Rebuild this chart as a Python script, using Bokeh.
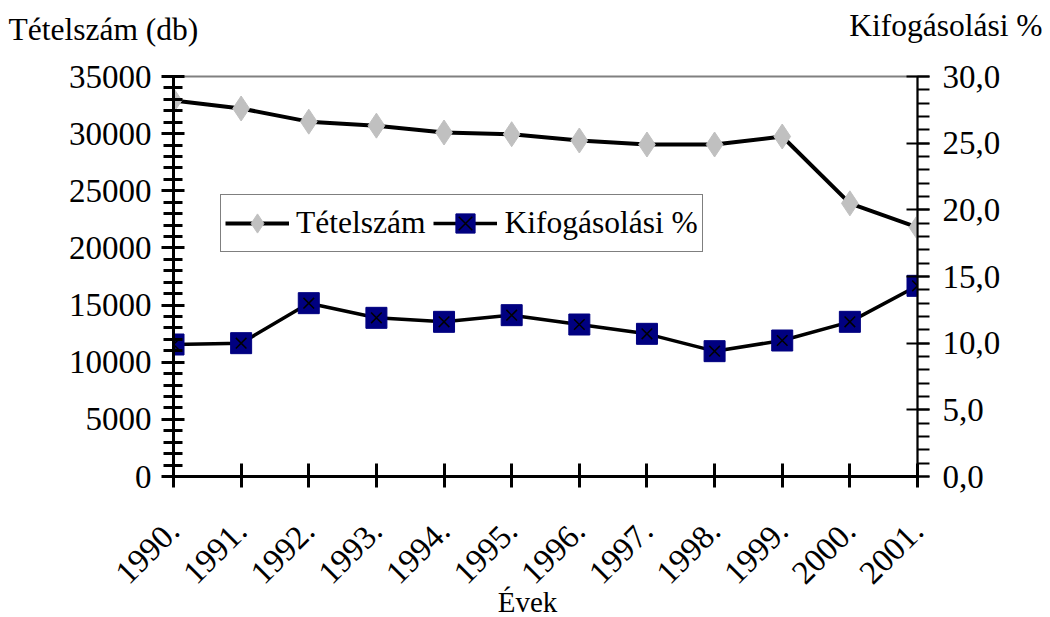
import math
from bokeh.plotting import figure
from bokeh.models import (Range1d, LinearAxis, SingleIntervalTicker, FixedTicker,
                          Legend, LegendItem, Label)
from bokeh.embed import file_html
from bokeh.resources import INLINE

# ---- data ----
years = [1990, 1991, 1992, 1993, 1994, 1995, 1996, 1997, 1998, 1999, 2000, 2001]
year_labels = ["1990.", "1991.", "1992.", "1993.", "1994.", "1995.",
               "1996.", "1997.", "1998.", "1999.", "2000.", "2001."]
tetelszam = [32900, 32200, 31050, 30700, 30100, 29950, 29400, 29050, 29050, 29750, 23900, 21800]
kifogasolasi = [9.9, 10.0, 13.0, 11.9, 11.6, 12.1, 11.4, 10.7, 9.4, 10.2, 11.6, 14.3]
right_ticks = [0, 5, 10, 15, 20, 25, 30]
right_tick_labels = ["0,0", "5,0", "10,0", "15,0", "20,0", "25,0", "30,0"]
left_title = "Tételszám (db)"
right_title = "Kifogásolási %"
x_title = "Évek"
series_names = ["Tételszám", "Kifogásolási %"]

FONT = "Liberation Serif"
FS = "31.5px"
TICK_FS = "33px"

p = figure(width=1050, height=617, output_backend="svg", toolbar_location=None,
           title=None,
           x_range=Range1d(1990, 2001), y_range=Range1d(0, 35000),
           min_border_left=173, min_border_right=133, min_border_top=76,
           min_border_bottom=141, x_axis_type=None, y_axis_type=None)
p.extra_y_ranges = {"pct": Range1d(0, 30)}
p.grid.visible = False
p.outline_line_color = "#808080"
p.outline_line_width = 2
p.background_fill_color = "white"
p.border_fill_color = "white"

# left axis
ya = LinearAxis(ticker=SingleIntervalTicker(interval=5000, num_minor_ticks=5))
ya.axis_line_width = 3
ya.major_tick_line_width = 3
ya.minor_tick_line_width = 3
ya.major_tick_in = 11
ya.major_tick_out = 12
ya.minor_tick_in = 9
ya.minor_tick_out = 10
ya.major_label_standoff = 10
ya.major_label_text_font = FONT
ya.major_label_text_font_size = TICK_FS
ya.major_label_text_color = "black"
p.add_layout(ya, "left")

# right axis
ry = LinearAxis(y_range_name="pct", ticker=FixedTicker(ticks=right_ticks,
                minor_ticks=[v for v in range(0, 31)]))
ry.major_label_overrides = {t: l for t, l in zip(right_ticks, right_tick_labels)}
ry.axis_line_width = 2
ry.major_tick_line_width = 2
ry.minor_tick_line_width = 2
ry.major_tick_in = 11
ry.major_tick_out = 12
ry.minor_tick_in = 0
ry.minor_tick_out = 12
ry.major_label_standoff = 13
ry.major_label_text_font = FONT
ry.major_label_text_font_size = TICK_FS
ry.major_label_text_color = "black"
p.add_layout(ry, "right")

# bottom axis
xa = LinearAxis(ticker=FixedTicker(ticks=years, minor_ticks=[]))
xa.major_label_overrides = {y: l for y, l in zip(years, year_labels)}
xa.axis_line_width = 3
xa.major_tick_line_width = 3
xa.major_tick_in = 13
xa.major_tick_out = 11
xa.minor_tick_in = 0
xa.minor_tick_out = 0
xa.major_label_orientation = math.pi / 4
xa.major_label_standoff = 38
xa.major_label_text_font = FONT
xa.major_label_text_font_size = TICK_FS
xa.major_label_text_color = "black"
p.add_layout(xa, "below")

# series
l1 = p.line(years, tetelszam, line_color="black", line_width=4)
m1 = p.scatter(years, tetelszam, marker="diamond", size=25,
               fill_color="#C0C0C0", line_color="#C0C0C0")
l2 = p.line(years, kifogasolasi, line_color="black", line_width=3.5, y_range_name="pct")
m2 = p.scatter(years, kifogasolasi, marker="square", size=21,
               fill_color="#000080", line_color="#000080", y_range_name="pct")
m3 = p.scatter(years, kifogasolasi, marker="x", size=15,
               line_color="black", line_width=1.5, y_range_name="pct")

legend = Legend(items=[LegendItem(label=series_names[0], renderers=[l1, m1]),
                       LegendItem(label=series_names[1], renderers=[l2, m2, m3])],
                location=(47, 224), orientation="horizontal")
legend.label_text_font = FONT
legend.label_text_font_size = FS
legend.label_text_color = "black"
legend.glyph_width = 64
legend.glyph_height = 48
legend.padding = 4
legend.spacing = 8
legend.label_standoff = 7
legend.margin = 0
legend.border_line_color = "black"
legend.border_line_width = 1.5
legend.background_fill_alpha = 1
p.add_layout(legend, "center")

# texts outside the frame: placed in side panels (not clipped)
p.add_layout(Label(x=-165, y=47, x_units="screen", y_units="screen", text=left_title,
                   text_font=FONT, text_font_size=FS, text_baseline="alphabetic",
                   text_align="left", text_color="black"), "above")
p.add_layout(Label(x=869, y=16, x_units="screen", y_units="screen", text=right_title,
                   text_font=FONT, text_font_size=FS, text_baseline="alphabetic",
                   text_align="right", text_color="black"), "above")
p.add_layout(Label(x=522, y=-125, x_units="screen", y_units="screen", text=x_title,
                   text_font=FONT, text_font_size="29px", text_baseline="alphabetic",
                   text_align="center", text_color="black"), "left")

open("out.html", "w").write(file_html(p, INLINE))
